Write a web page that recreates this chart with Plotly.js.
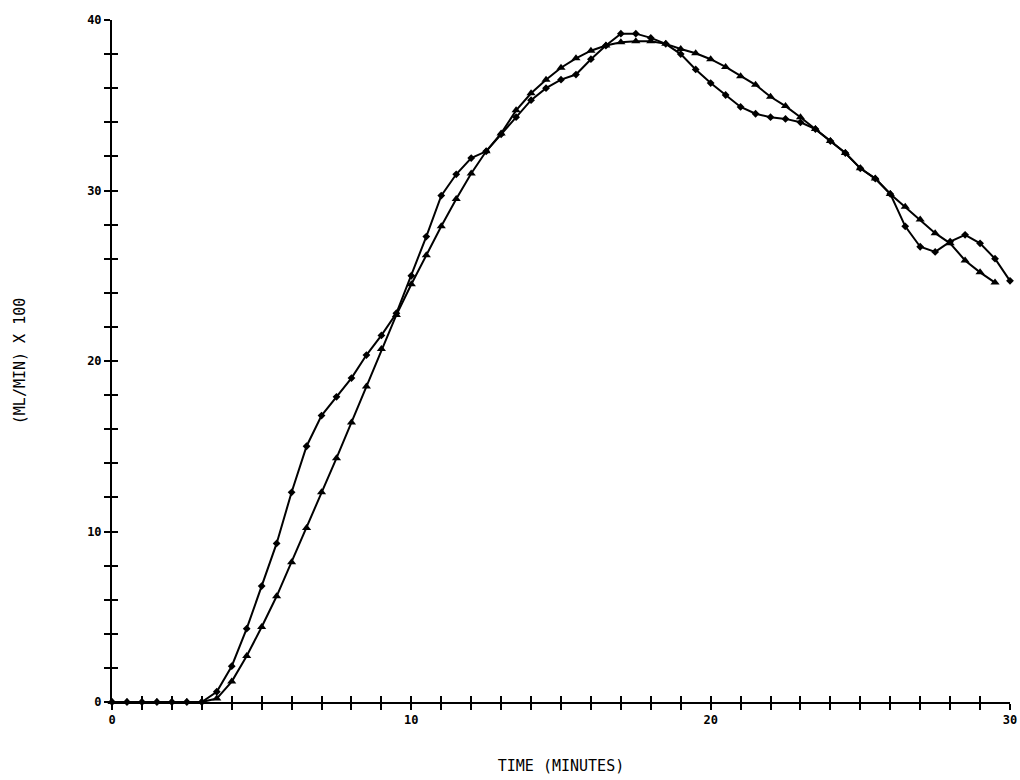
<!DOCTYPE html>
<html>
<head>
<meta charset="utf-8">
<script src="https://cdn.plot.ly/plotly-3.0.1.min.js"></script>
<style>html,body{margin:0;padding:0;background:#fff;}</style>
</head>
<body>
<div id="chart" style="width:1020px;height:780px;"></div>
<script>
// time in minutes (every half minute)
const timeA = [0,0.5,1,1.5,2,2.5,3,3.5,4,4.5,5,5.5,6,6.5,7,7.5,8,8.5,9,9.5,10,10.5,11,11.5,12,12.5,13,13.5,14,14.5,15,15.5,16,16.5,17,17.5,18,18.5,19,19.5,20,20.5,21,21.5,22,22.5,23,23.5,24,24.5,25,25.5,26,26.5,27,27.5,28,28.5,29,29.5,30];
const flowA = [0,0,0,0,0,0,0,0.6,2.1,4.3,6.8,9.3,12.3,15.0,16.8,17.9,19.0,20.35,21.5,22.8,25.0,27.3,29.7,30.95,31.9,32.3,33.3,34.3,35.3,36.0,36.5,36.8,37.7,38.5,39.2,39.2,38.95,38.6,38.0,37.1,36.3,35.6,34.9,34.5,34.3,34.2,34.0,33.6,32.9,32.2,31.3,30.7,29.8,27.9,26.7,26.4,27.0,27.4,26.9,26.0,24.7];
const timeB = [0,0.5,1,1.5,2,2.5,3,3.5,4,4.5,5,5.5,6,6.5,7,7.5,8,8.5,9,9.5,10,10.5,11,11.5,12,12.5,13,13.5,14,14.5,15,15.5,16,16.5,17,17.5,18,18.5,19,19.5,20,20.5,21,21.5,22,22.5,23,23.5,24,24.5,25,25.5,26,26.5,27,27.5,28,28.5,29,29.5];
const flowB = [0,0,0,0,0,0,0,0.2,1.2,2.7,4.4,6.2,8.2,10.2,12.3,14.3,16.4,18.5,20.7,22.7,24.5,26.2,27.9,29.5,31.0,32.3,33.35,34.7,35.7,36.5,37.2,37.75,38.2,38.5,38.7,38.75,38.75,38.6,38.3,38.05,37.7,37.25,36.7,36.2,35.5,34.95,34.3,33.6,32.9,32.2,31.3,30.7,29.8,29.05,28.3,27.5,26.9,25.9,25.2,24.6];
const xTickVals = [0,10,20,30];
const xTickText = ['0','10','20','30'];
const yTickVals = [0,10,20,30,40];
const yTickText = ['0','10','20','30','40'];

const FONT = 'DejaVu Sans Mono, monospace';

const traces = [
  {x: timeA, y: flowA, type:'scatter', mode:'lines+markers', xaxis:'x', yaxis:'y',
   line:{color:'#000', width:2}, marker:{symbol:'diamond', size:6, color:'#000'},
   cliponaxis:false, showlegend:false, hoverinfo:'skip'},
  {x: timeB, y: flowB, type:'scatter', mode:'lines+markers', xaxis:'x2', yaxis:'y2',
   line:{color:'#000', width:2}, marker:{symbol:'triangle-up', size:8, color:'#000'},
   cliponaxis:false, showlegend:false, hoverinfo:'skip'}
];

const axisCommon = {showgrid:false, zeroline:false};
const layout = {
  width:1020, height:780,
  paper_bgcolor:'#fff', plot_bgcolor:'#fff',
  margin:{l:112, r:10, t:20, b:78},
  showlegend:false,
  xaxis: Object.assign({}, axisCommon, {
    range:[0,30], tickmode:'array', tickvals:xTickVals, ticktext:xTickText,
    ticks:'outside', ticklen:6, tickwidth:2, tickcolor:'#000',
    minor:{dtick:1, ticks:'outside', ticklen:6, tickwidth:2, tickcolor:'#000'},
    showline:true, linecolor:'#000', linewidth:2,
    tickfont:{family:FONT, size:12, color:'#000', weight:'bold'},
    title:{text:'TIME (MINUTES)', standoff:34, font:{family:FONT, size:15, color:'#000'}}
  }),
  yaxis: Object.assign({}, axisCommon, {
    range:[0,40], tickmode:'array', tickvals:yTickVals, ticktext:yTickText,
    ticks:'outside', ticklen:6, tickwidth:2, tickcolor:'#000',
    minor:{dtick:2, ticks:'outside', ticklen:6, tickwidth:2, tickcolor:'#000'},
    showline:true, linecolor:'#000', linewidth:2,
    tickfont:{family:FONT, size:12, color:'#000', weight:'bold'},
    title:{text:'(ML/MIN) X 100', standoff:58, font:{family:FONT, size:15, color:'#000'}}
  }),
  xaxis2: Object.assign({}, axisCommon, {
    overlaying:'x', anchor:'y2', range:[0,30], tickmode:'array', tickvals:xTickVals,
    showticklabels:false, ticks:'inside', ticklen:6, tickwidth:2, tickcolor:'#000',
    minor:{dtick:1, ticks:'inside', ticklen:6, tickwidth:2, tickcolor:'#000'},
    showline:false
  }),
  yaxis2: Object.assign({}, axisCommon, {
    overlaying:'y', anchor:'x2', range:[0,40], tickmode:'array', tickvals:yTickVals,
    showticklabels:false, ticks:'inside', ticklen:6, tickwidth:2, tickcolor:'#000',
    minor:{dtick:2, ticks:'inside', ticklen:6, tickwidth:2, tickcolor:'#000'},
    showline:false
  })
};

Plotly.newPlot('chart', traces, layout, {displayModeBar:false, staticPlot:true});
</script>
</body>
</html>
